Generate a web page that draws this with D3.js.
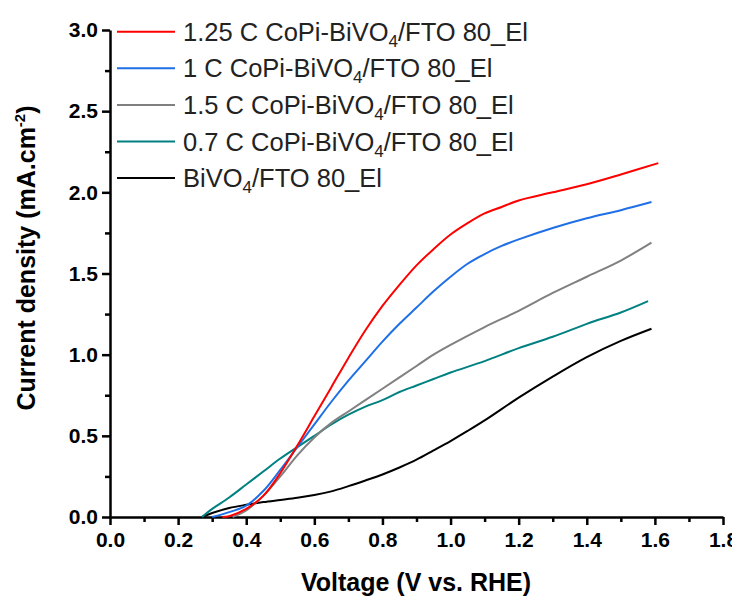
<!DOCTYPE html>
<html>
<head>
<meta charset="utf-8">
<script src="https://cdn.jsdelivr.net/npm/d3@7"></script>
<style>
  body { margin: 0; background: #fff; }
  svg { display: block; font-family: Arial, "Liberation Sans", sans-serif; }
</style>
</head>
<body>
<svg id="chart" width="732" height="597"></svg>
<script>
// legend labels: [before subscript, subscript, after]
const labels = [
  ['1.25 C CoPi-BiVO', '4', '/FTO 80_El'],
  ['1 C CoPi-BiVO', '4', '/FTO 80_El'],
  ['1.5 C CoPi-BiVO', '4', '/FTO 80_El'],
  ['0.7 C CoPi-BiVO', '4', '/FTO 80_El'],
  ['BiVO', '4', '/FTO 80_El'],
];
const colors = ['#ff0000', '#1f6fe6', '#808080', '#008080', '#000000'];

const vRed = [0.33, 0.35, 0.40, 0.45, 0.50, 0.55, 0.60, 0.65, 0.70, 0.75, 0.80, 0.85, 0.90, 0.95, 1.00, 1.05, 1.10, 1.15, 1.20, 1.30, 1.40, 1.50, 1.61];
const jRed = [0, 0.005, 0.05, 0.13, 0.27, 0.44, 0.62, 0.80, 0.98, 1.15, 1.30, 1.43, 1.55, 1.65, 1.74, 1.81, 1.87, 1.91, 1.95, 2.00, 2.05, 2.11, 2.18];

const vBlue = [0.30, 0.35, 0.40, 0.45, 0.50, 0.55, 0.60, 0.65, 0.70, 0.75, 0.80, 0.85, 0.90, 0.95, 1.00, 1.05, 1.10, 1.15, 1.20, 1.30, 1.40, 1.50, 1.59];
const jBlue = [0, 0.03, 0.07, 0.16, 0.29, 0.43, 0.57, 0.71, 0.84, 0.96, 1.08, 1.19, 1.29, 1.39, 1.48, 1.56, 1.62, 1.67, 1.71, 1.78, 1.84, 1.89, 1.94];

const vGray = [0.36, 0.40, 0.45, 0.50, 0.55, 0.60, 0.65, 0.70, 0.75, 0.80, 0.85, 0.90, 0.95, 1.00, 1.10, 1.20, 1.30, 1.40, 1.50, 1.59];
const jGray = [0, 0.04, 0.13, 0.25, 0.38, 0.49, 0.58, 0.65, 0.72, 0.79, 0.86, 0.93, 1.00, 1.06, 1.17, 1.27, 1.38, 1.48, 1.58, 1.69];

const vTeal = [0.27, 0.30, 0.35, 0.40, 0.45, 0.50, 0.55, 0.60, 0.65, 0.70, 0.75, 0.80, 0.85, 0.90, 0.95, 1.00, 1.10, 1.20, 1.30, 1.40, 1.50, 1.58];
const jTeal = [0, 0.05, 0.12, 0.20, 0.28, 0.36, 0.43, 0.50, 0.57, 0.63, 0.68, 0.72, 0.77, 0.81, 0.85, 0.89, 0.96, 1.04, 1.11, 1.19, 1.26, 1.33];

const vBlack = [0.27, 0.30, 0.35, 0.40, 0.45, 0.50, 0.55, 0.60, 0.65, 0.70, 0.75, 0.80, 0.85, 0.90, 0.95, 1.00, 1.05, 1.10, 1.20, 1.30, 1.40, 1.50, 1.59];
const jBlack = [0, 0.025, 0.055, 0.075, 0.092, 0.105, 0.118, 0.135, 0.158, 0.19, 0.225, 0.262, 0.305, 0.353, 0.41, 0.468, 0.53, 0.595, 0.735, 0.865, 0.985, 1.085, 1.16];

const xTicks = [0, 0.2, 0.4, 0.6, 0.8, 1.0, 1.2, 1.4, 1.6, 1.8];
const yTicks = [0, 0.5, 1.0, 1.5, 2.0, 2.5, 3.0];

const series = [
  [vRed, jRed], [vBlue, jBlue], [vGray, jGray], [vTeal, jTeal], [vBlack, jBlack],
].map(([v, j], i) => ({ color: colors[i], label: labels[i], pts: v.map((d, k) => [d, j[k]]) }));

const svg = d3.select('#chart');
const x = d3.scaleLinear().domain([0, 1.8]).range([110, 723]);
const y = d3.scaleLinear().domain([0, 3]).range([517, 30]);

// minor ticks
svg.append('g')
  .attr('transform', 'translate(0,517)')
  .call(d3.axisBottom(x).tickValues(d3.range(1, 18, 2).map((d) => d / 10)).tickSize(5).tickFormat(''))
  .call((g) => g.select('.domain').remove())
  .call((g) => g.selectAll('line').attr('stroke-width', 2.5));
svg.append('g')
  .attr('transform', 'translate(110,0)')
  .call(d3.axisLeft(y).tickValues([0.25, 0.75, 1.25, 1.75, 2.25, 2.75]).tickSize(5).tickFormat(''))
  .call((g) => g.select('.domain').remove())
  .call((g) => g.selectAll('line').attr('stroke-width', 2.5));

const xAxis = svg.append('g')
  .attr('transform', 'translate(0,517)')
  .call(d3.axisBottom(x).tickValues(xTicks).tickSizeInner(8).tickSizeOuter(0).tickPadding(7).tickFormat(d3.format('.1f')));
const yAxis = svg.append('g')
  .attr('transform', 'translate(110,0)')
  .call(d3.axisLeft(y).tickValues(yTicks).tickSizeInner(8).tickSizeOuter(0).tickPadding(4).tickFormat(d3.format('.1f')));

[xAxis, yAxis].forEach((g) => {
  g.select('.domain').attr('stroke-width', 2.5);
  g.selectAll('line').attr('stroke-width', 2.5);
  g.selectAll('text').style('font-size', '21px').style('font-weight', 'bold').attr('fill', '#000');
});

const line = d3.line()
  .x((d) => x(d[0]))
  .y((d) => y(d[1]))
  .curve(d3.curveCatmullRom.alpha(0.5));

svg.append('g')
  .selectAll('path')
  .data(series.slice().reverse())
  .join('path')
  .attr('d', (d) => line(d.pts))
  .attr('fill', 'none')
  .attr('stroke', (d) => d.color)
  .attr('stroke-width', 2);

// legend
const legend = svg.append('g')
  .selectAll('g')
  .data(series)
  .join('g')
  .attr('transform', (d, i) => `translate(117,${31.7 + i * 36.6})`);

legend.append('line')
  .attr('x1', 0).attr('x2', 58)
  .attr('stroke', (d) => d.color)
  .attr('stroke-width', 2);

const lt = legend.append('text')
  .attr('x', 66)
  .attr('y', 9)
  .style('font-size', '25.5px')
  .attr('fill', '#222');
lt.append('tspan').text((d) => d.label[0]);
lt.append('tspan').attr('dy', 6).style('font-size', '17px').text((d) => d.label[1]);
lt.append('tspan').attr('dy', -6).text((d) => d.label[2]);

// axis titles
svg.append('text')
  .attr('x', 416)
  .attr('y', 591)
  .attr('text-anchor', 'middle')
  .style('font-size', '25px')
  .style('font-weight', 'bold')
  .text('Voltage (V vs. RHE)');

const yt = svg.append('text')
  .attr('transform', 'translate(35,258) rotate(-90)')
  .attr('text-anchor', 'middle')
  .style('font-size', '25px')
  .style('font-weight', 'bold');
yt.append('tspan').text('Current density (mA.cm');
yt.append('tspan').attr('dy', -10).style('font-size', '15px').text('-2');
yt.append('tspan').attr('dy', 10).text(')');
</script>
</body>
</html>
